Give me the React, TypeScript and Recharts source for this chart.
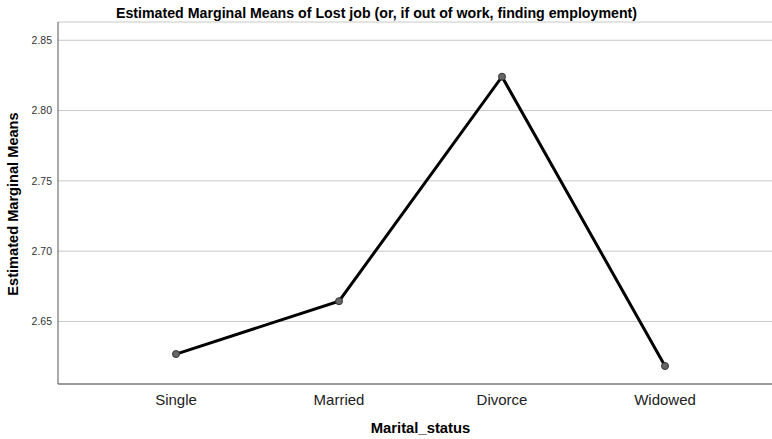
import React from 'react';
import { LineChart, Line, XAxis, YAxis, CartesianGrid, Customized } from 'recharts';

const categories = ['Single', 'Married', 'Divorce', 'Widowed'];
const means = [2.6268, 2.6644, 2.8241, 2.6183];
const yTicks = [2.65, 2.7, 2.75, 2.8, 2.85];

const data = categories.map((c, i) => ({ name: c, value: means[i] }));

const FONT = '"Liberation Sans", Arial, sans-serif';

const Texts = () => (
  <g>
    <text x={376.5} y={18} textAnchor="middle" fontFamily={FONT} fontSize={14.2} fontWeight="bold" fill="#000">
      Estimated Marginal Means of Lost job (or, if out of work, finding employment)
    </text>
    <text x={0} y={0} transform="translate(18,204) rotate(-90)" textAnchor="middle" fontFamily={FONT} fontSize={14.6} fontWeight="bold" fill="#000">
      Estimated Marginal Means
    </text>
    <text x={420.5} y={433} textAnchor="middle" fontFamily={FONT} fontSize={14.8} fontWeight="bold" fill="#000">
      Marital_status
    </text>
  </g>
);

export default function App() {
  return (
    <div style={{ position: 'absolute', left: 0, top: 0, background: '#fff' }}>
      <LineChart width={772} height={439} data={data} margin={{ top: 22, right: 0, bottom: 0, left: 0 }}>
        <CartesianGrid horizontal={true} vertical={false} stroke="#c8c8c8" strokeWidth={1} />
        <XAxis
          dataKey="name"
          padding={{ left: 118, right: 107 }}
          axisLine={{ stroke: '#555', strokeWidth: 1 }}
          tickLine={false}
          tickSize={0}
          tickMargin={10}
          tick={{ fontFamily: FONT, fontSize: 15, fill: '#222' }}
          height={55}
        />
        <YAxis
          type="number"
          domain={[2.6055, 2.863]}
          allowDataOverflow
          ticks={yTicks}
          tickFormatter={(v: number) => v.toFixed(2)}
          axisLine={{ stroke: '#555', strokeWidth: 1 }}
          tickLine={false}
          tickSize={0}
          tickMargin={6}
          tick={{ fontFamily: FONT, fontSize: 10.5, fill: '#333' }}
          width={58}
        />
        <Line
          type="linear"
          dataKey="value"
          stroke="#000"
          strokeWidth={3}
          dot={{ r: 3.5, fill: '#666', stroke: '#333', strokeWidth: 1 }}
          isAnimationActive={false}
        />
        <Customized component={Texts} />
      </LineChart>
    </div>
  );
}
